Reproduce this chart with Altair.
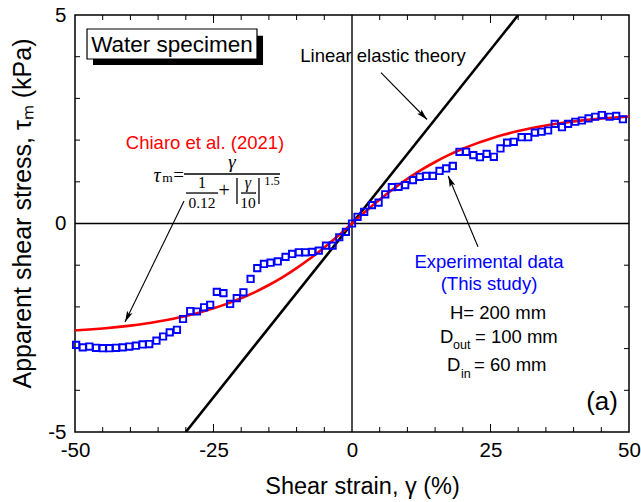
import math
import altair as alt
import pandas as pd

W, H = 554, 417

# ---------------- data ----------------
exp_x = [-49.8, -48.6, -47.4, -46.2, -45.0, -43.8, -42.6, -41.4, -40.2, -39.0, -37.8, -36.6,
         -35.3, -34.1, -32.9, -31.6, -30.5, -29.2, -28.0, -26.7, -25.6, -24.4, -23.2, -22.0,
         -20.8, -19.6, -18.3, -17.1, -15.9, -14.7, -13.4, -12.0, -10.8, -9.6, -8.4, -7.2,
         -6.0, -4.7, -3.5, -2.3, -1.1, 0.0, 1.0, 2.2, 3.6, 4.8, 6.0, 7.2, 8.4, 9.6, 11.0,
         12.2, 13.4, 14.6, 15.8, 17.0, 18.2, 19.4, 20.6, 21.9, 23.1, 24.3, 25.6, 26.8, 28.0,
         29.2, 30.6, 31.8, 33.0, 34.2, 35.4, 36.6, 37.9, 39.0, 40.3, 41.5, 42.7, 43.9, 45.1,
         46.5, 47.7, 48.9]
exp_y = [-2.91, -2.97, -2.95, -2.98, -2.99, -2.99, -2.98, -2.97, -2.95, -2.93, -2.90, -2.89,
         -2.81, -2.71, -2.61, -2.55, -2.29, -2.10, -2.11, -2.01, -1.95, -1.64, -1.67, -1.93,
         -1.79, -1.65, -1.33, -1.07, -0.97, -0.94, -0.91, -0.80, -0.73, -0.69, -0.69, -0.68,
         -0.65, -0.53, -0.53, -0.33, -0.20, 0.0, 0.16, 0.28, 0.44, 0.50, 0.70, 0.87, 0.88, 0.92,
         1.04, 1.12, 1.14, 1.14, 1.26, 1.32, 1.38, 1.72, 1.72, 1.64, 1.59, 1.67, 1.60, 1.80,
         1.94, 1.96, 2.07, 2.07, 2.18, 2.20, 2.23, 2.39, 2.31, 2.39, 2.44, 2.47, 2.52, 2.56,
         2.60, 2.56, 2.58, 2.50]

model_x = [-50, -47.5, -45, -42.5, -40, -37.5, -35, -32.5, -30, -27.5, -25, -22.5, -20, -17.5,
           -15, -12.5, -10, -7.5, -5, -2.5, 0, 2.5, 5, 7.5, 10, 12.5, 15, 17.5, 20, 22.5, 25,
           27.5, 30, 32.5, 35, 37.5, 40, 42.5, 45, 47.5, 50]
model_y = [-2.562, -2.542, -2.517, -2.486, -2.449, -2.405, -2.352, -2.290, -2.217, -2.133,
           -2.035, -1.922, -1.792, -1.644, -1.475, -1.285, -1.071, -0.835, -0.576, -0.296, 0.0,
           0.296, 0.576, 0.835, 1.071, 1.285, 1.475, 1.644, 1.792, 1.922, 2.035, 2.133, 2.217,
           2.290, 2.352, 2.405, 2.449, 2.486, 2.517, 2.542, 2.562]

linear_x = [-30, 30]
linear_y = [-5, 5]

x_tick_labels = [-50, -25, 0, 25, 50]
y_tick_labels = [-5, 0, 5]
x_minor = [-45, -40, -35, -30, -20, -15, -10, -5, 5, 10, 15, 20, 30, 35, 40, 45]
x_major = [-25, 25]
y_minor = [-4, -3, -2, -1, 1, 2, 3, 4]

# ---------------- scales / axes ----------------
xs = alt.Scale(domain=[-50, 50], nice=False, zero=False)
ys = alt.Scale(domain=[-5, 5], nice=False, zero=False)
SANS = "Liberation Sans"
SERIF = "Liberation Serif"
HYPHEN = "replace(datum.label, '\u2212', '-')"

x_axis = alt.Axis(
    values=x_tick_labels, ticks=False, domain=False, grid=False, labelFlush=False,
    labelOverlap=False, labelFontSize=20.5, labelFont=SANS, labelColor="black",
    labelPadding=8, labelExpr=HYPHEN,
    title="Shear strain, γ (%)", titleFont=SANS, titleFontSize=23.5,
    titleFontWeight="normal", titleColor="black", titleX=287, titleY=54,
    titleBaseline="middle", titleAlign="center")
y_axis = alt.Axis(
    values=y_tick_labels, ticks=False, domain=False, grid=False, labelFlush=False,
    labelOverlap=False, labelFontSize=20.5, labelFont=SANS, labelColor="black",
    labelPadding=9, labelExpr=HYPHEN,
    title="Apparent shear stress, τₘ (kPa)", titleFont=SANS,
    titleFontSize=25, titleFontWeight="normal", titleColor="black", titleX=-53,
    titleY=198, titleBaseline="middle", titleAlign="center", titleAngle=270)


def X(f="x"):
    return alt.X(f"{f}:Q", scale=xs, axis=x_axis)


def Y(f="y"):
    return alt.Y(f"{f}:Q", scale=ys, axis=y_axis)


exp_df = pd.DataFrame({"x": exp_x, "y": exp_y})
points = alt.Chart(exp_df).mark_point(
    shape="square", filled=False, color="#0000ff", size=40, strokeWidth=1.9, opacity=1
).encode(x=X(), y=Y())

model = alt.Chart(pd.DataFrame({"x": model_x, "y": model_y})).mark_line(
    color="#ff0000", strokeWidth=2.6, interpolate="monotone").encode(x=X(), y=Y())

linear = alt.Chart(pd.DataFrame({"x": linear_x, "y": linear_y})).mark_line(
    color="black", strokeWidth=2.6, clip=True).encode(x=X(), y=Y())

zero_v = alt.Chart(pd.DataFrame({"x": [0]})).mark_rule(color="black", strokeWidth=1.4).encode(x=X())
zero_h = alt.Chart(pd.DataFrame({"y": [0]})).mark_rule(color="black", strokeWidth=1.4).encode(y=Y())


def xticks(vals, y0, y1):
    return alt.Chart(pd.DataFrame({"x": vals})).mark_rule(color="black", strokeWidth=1).encode(
        x=X(), y=alt.value(y0), y2=alt.value(y1))


def yticks(vals, x0, x1):
    return alt.Chart(pd.DataFrame({"y": vals})).mark_rule(color="black", strokeWidth=1).encode(
        y=Y(), x=alt.value(x0), x2=alt.value(x1))


ticks = [xticks(x_minor, H, H - 5), xticks(x_major, H, H - 8),
         xticks(x_minor, 0, 5), xticks(x_major, 0, 8),
         yticks(y_minor, 0, 5), yticks(y_minor, W, W - 5)]

# ---------------- annotations ----------------
box_shadow = alt.Chart(pd.DataFrame({"x": [-46.75], "x2": [-16.06], "y": [4.50], "y2": [3.80]})).mark_rect(
    color="black").encode(x=X(), x2="x2:Q", y=Y(), y2="y2:Q")
box = alt.Chart(pd.DataFrame({"x": [-47.83], "x2": [-17.15], "y": [4.664], "y2": [3.945]})).mark_rect(
    fill="white", stroke="black", strokeWidth=1.2).encode(x=X(), x2="x2:Q", y=Y(), y2="y2:Q")


def texts(rows, font, align="center", style="normal"):
    df = pd.DataFrame(rows, columns=["t", "x", "y", "s", "c"])
    return alt.Chart(df).mark_text(font=font, align=align, baseline="middle", fontStyle=style).encode(
        x=X(), y=Y(), text="t:N", size=alt.Size("s:Q", scale=None, legend=None),
        color=alt.Color("c:N", scale=None, legend=None))


sans_center = texts([
    ["Water specimen", -32.49, 4.28, 22.5, "black"],
    ["Linear elastic theory", 5.60, 4.02, 18.5, "black"],
    ["Chiaro et al. (2021)", -26.53, 1.93, 18.5, "#ff0000"],
    ["Experimental data", 24.73, -0.92, 18.5, "#0000ff"],
    ["(This study)", 24.73, -1.45, 18.5, "#0000ff"],
    ["H= 200 mm", 26.35, -2.15, 18.5, "black"],
    ["(a)", 45.13, -4.28, 26, "black"],
], SANS)
sans_left = texts([
    ["D", 15.88, -2.72, 18.5, "black"],
    ["out", 18.23, -2.92, 12.5, "black"],
    ["= 100 mm", 22.20, -2.72, 18.5, "black"],
    ["D", 17.15, -3.39, 18.5, "black"],
    ["in", 19.68, -3.61, 12.5, "black"],
    ["= 60 mm", 22.02, -3.39, 18.5, "black"],
], SANS, align="left")
serif_italic = texts([
    ["τ", -35.20, 1.14, 20, "black"],
    ["γ", -21.66, 1.475, 19, "black"],
    ["γ", -18.77, 0.96, 16, "black"],
], SERIF, style="italic")
serif_up = texts([
    ["m", -33.30, 1.09, 13.5, "black"],
    ["=", -31.30, 1.16, 19, "black"],
    ["1", -27.08, 0.96, 16, "black"],
    ["0.12", -27.08, 0.48, 15.5, "black"],
    ["+", -23.10, 0.779, 20, "black"],
    ["10", -18.77, 0.48, 15.5, "black"],
    ["1.5", -14.44, 1.019, 12.5, "black"],
], SERIF)

frac_h = alt.Chart(pd.DataFrame({
    "x": [-30.32, -29.96, -20.04], "x2": [-12.99, -24.19, -17.33],
    "y": [1.187, 0.731, 0.731]})).mark_rule(color="black", strokeWidth=1.3).encode(
    x=X(), x2="x2:Q", y=Y())
frac_v = alt.Chart(pd.DataFrame({
    "x": [-20.76, -16.79], "y": [1.091, 1.091], "y2": [0.468, 0.468]})).mark_rule(
    color="black", strokeWidth=1.3).encode(x=X(), y=Y(), y2="y2:Q")

# arrows: start -> tip
arrows = [(5.23, 3.616, 13.54, 2.494), (-30.32, 0.54, -40.97, -2.36), (22.74, -0.556, 17.38, 1.139)]
ax = [a[0] for a in arrows]
ay = [a[1] for a in arrows]
bx = [a[2] for a in arrows]
by = [a[3] for a in arrows]
kx, ky = W / 100.0, H / 10.0
head_rows = []
for x0, y0, x1, y1 in zip(ax, ay, bx, by):
    dxp, dyp = (x1 - x0) * kx, -(y1 - y0) * ky
    L = math.hypot(dxp, dyp)
    ux, uy = dxp / L, dyp / L
    ang = math.degrees(math.atan2(ux, -uy)) % 360
    back = 5.5
    head_rows.append({"x": x1 - ux * back / kx, "y": y1 + uy * back / ky, "a": ang})
arrow_lines = alt.Chart(pd.DataFrame({"x": ax, "y": ay, "x2": bx, "y2": by})).mark_rule(
    color="black", strokeWidth=1.1).encode(x=X(), y=Y(), x2="x2:Q", y2="y2:Q")
arrow_heads = alt.Chart(pd.DataFrame(head_rows)).mark_point(
    shape="M0,-1L0.55,1L0,0.6L-0.55,1Z", filled=True, color="black", size=120,
    opacity=1, strokeWidth=0).encode(
    x=X(), y=Y(), angle=alt.Angle("a:Q", scale=None))

chart = alt.layer(
    zero_v, zero_h, *ticks, linear, model, points,
    box_shadow, box, sans_center, sans_left, serif_italic, serif_up, frac_h, frac_v,
    arrow_lines, arrow_heads,
).properties(
    width=W, height=H, autosize=alt.AutoSizeParams(type="none"),
    padding={"left": 75, "top": 15, "right": 12, "bottom": 70},
    background="white",
).configure_view(stroke="black", strokeWidth=1.5)

chart.save("out.html", embed_options={"renderer": "svg", "actions": False})
